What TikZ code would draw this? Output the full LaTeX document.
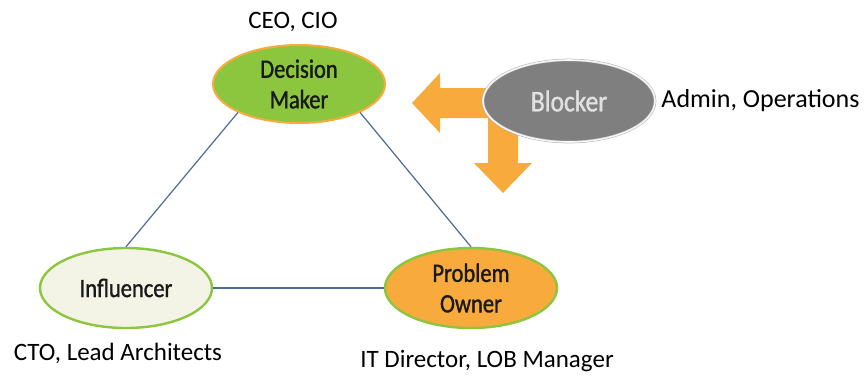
\documentclass[tikz,border=0pt]{standalone}
\usepackage{fontspec}
\setmainfont{Carlito}
\newfontfamily\narrowfont[FakeStretch=0.85, FakeBold=1.2]{Carlito}
\usetikzlibrary{positioning, shapes.geometric}

\definecolor{leafgreen}{HTML}{8CC63F}
\definecolor{amber}{HTML}{F8AA3C}
\definecolor{linkblue}{HTML}{4A6A9A}
\definecolor{paper}{HTML}{F3F3E6}
\definecolor{slate}{HTML}{7F7F7F}

\begin{document}
\begin{tikzpicture}[x=1pt, y=-1pt, node distance=6pt,
        role/.style={ellipse, draw, line width=2.4pt, minimum width=172pt, minimum height=80pt,
            inner sep=0pt, align=center, text=black!90, font=\narrowfont\fontsize{26.5}{30.5}\selectfont},
        who/.style={font=\fontsize{25}{30}\selectfont, inner sep=0pt, anchor=base},
        link/.style={linkblue, line width=1.2pt}]
        \useasboundingbox (0,0) rectangle (864,376);

        % bent two-way arrow, sits under the blocker
        \fill[amber] (412,103) -- (440,73) -- (440,88) -- (518,88) -- (518,163) -- (532,163)
            -- (503,193) -- (474,163) -- (488,163) -- (488,118) -- (440,118) -- (440,133) -- cycle;

        \node[role, fill=leafgreen, draw=amber, line width=2pt, minimum height=78pt] (dm) at (299,84) {Decision\\Maker};
        \node[role, fill=paper, draw=leafgreen] (inf) at (126,288) {Influencer};
        \node[role, fill=amber, draw=leafgreen] (po) at (471,288) {Problem\\Owner};
        \node[role, fill=slate, draw=black!30, double=black!4, double distance=1.6pt, line width=0.5pt,
            text=black!12, minimum height=82pt, font=\narrowfont\fontsize{30}{34}\selectfont] (blk) at (569,101) {Blocker};

        \draw[link] (dm.205) -- (inf.north);
        \draw[link] (dm.335) -- (po.north);
        \draw[link] (inf) -- (po);

        % who holds each role
        \node[who] (ceo) at (293,28) {CEO, CIO};
        \node[who, right=6pt of blk, font=\fontsize{26}{30}\selectfont] (ops) {Admin, Operations};
        \node[who] (cto) at (118,360) {CTO, Lead Architects};
        \node[who] (itd) at (487,367) {IT Director, LOB Manager};
    \end{tikzpicture}
\end{document}
